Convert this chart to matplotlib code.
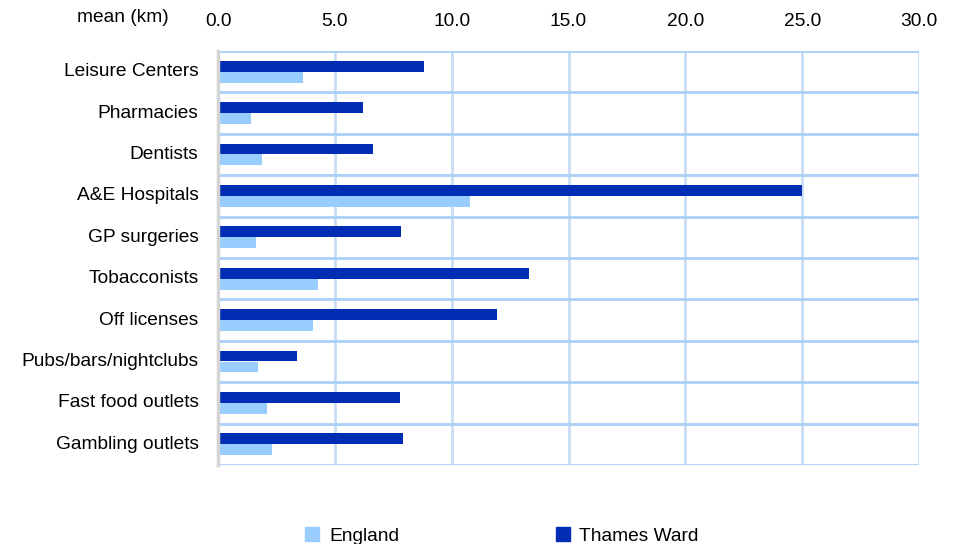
import matplotlib
matplotlib.use("Agg")
import numpy as np
import matplotlib.pyplot as plt
from matplotlib.patches import Patch

# mean distance (km) to nearest facility
categories = ['Leisure Centers', 'Pharmacies', 'Dentists', 'A&E Hospitals', 'GP surgeries',
              'Tobacconists', 'Off licenses', 'Pubs/bars/nightclubs', 'Fast food outlets',
              'Gambling outlets']
thames_ward = [8.80, 6.20, 6.62, 25.0, 7.82, 13.29, 11.92, 3.38, 7.78, 7.91]
england = [3.63, 1.41, 1.88, 10.77, 1.62, 4.27, 4.06, 1.71, 2.09, 2.31]
xticks = [0, 5, 10, 15, 20, 25, 30]

plt.rcParams['font.family'] = ['Liberation Sans', 'DejaVu Sans']
fs = 13.75
dark = '#002DB3'
light = '#99CCFF'

fig = plt.figure(figsize=(9.57, 5.44), dpi=100)
ax = fig.add_axes([218/957, 1-465/544, (919-218)/957, (465-51)/544])

y = np.arange(len(categories))
h = 0.265
ax.barh(y - h/2, thames_ward, height=h, color=dark, zorder=3)
ax.barh(y + h/2, england, height=h, color=light, zorder=3)

ax.set_xlim(0, 30)
ax.set_ylim(len(categories) - 0.5, -0.5)
ax.set_xticks(xticks)
ax.set_xticklabels([f'{v:.1f}' for v in xticks], fontsize=fs)
ax.xaxis.tick_top()
ax.tick_params(axis='x', length=0, pad=15)
ax.set_yticks(y - 0.05)
ax.set_yticklabels(categories, fontsize=fs)
ax.tick_params(axis='y', length=0, pad=14)
ax.set_yticks(np.arange(len(categories) + 1) - 0.5, minor=True)
ax.tick_params(axis='y', which='minor', length=0)

ax.grid(axis='x', which='major', color='#C9DDF5', linewidth=2, zorder=1)
ax.grid(axis='y', which='minor', color='#A8D0F8', linewidth=2, zorder=1)
ax.grid(axis='y', which='major', visible=False)

for s in ['top', 'right', 'bottom']:
    ax.spines[s].set_visible(False)
ax.spines['left'].set_color('#D4D4D4')
ax.spines['left'].set_linewidth(2.5)
ax.spines['left'].set_zorder(4)

fig.text(123/957, 1-17/544, 'mean (km)', fontsize=fs, ha='center', va='center')

handles = [Patch(color=light, label='England'), Patch(color=dark, label='Thames Ward')]
fig.legend(handles=handles, loc='center', bbox_to_anchor=(502/957, 1-536/544), ncol=2,
           frameon=False, fontsize=fs, handlelength=0.75, handleheight=0.75,
           handletextpad=0.5, columnspacing=8.2)

fig.savefig('out.png', dpi=100)
